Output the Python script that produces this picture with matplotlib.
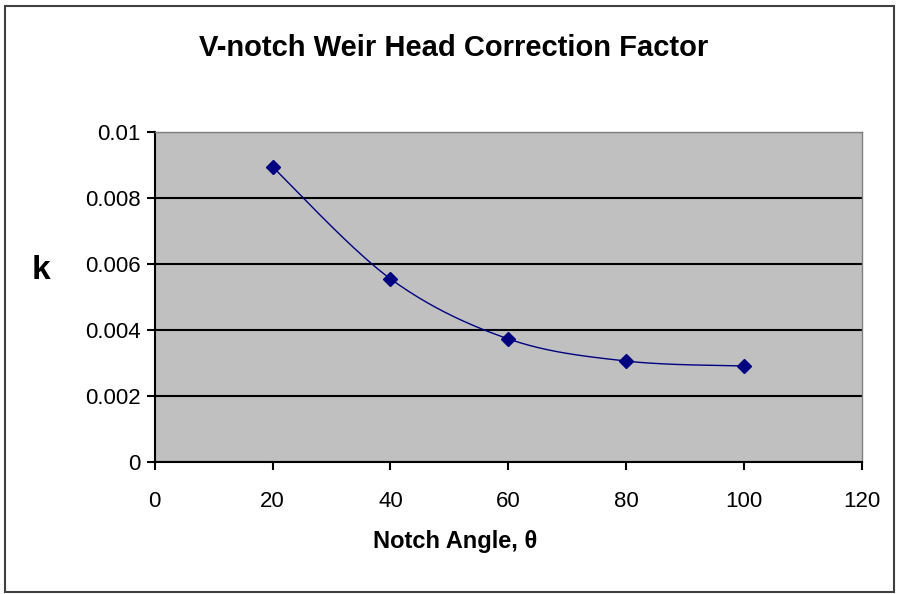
import numpy as np
import matplotlib
matplotlib.use('Agg')
import matplotlib.pyplot as plt
from matplotlib.patches import Rectangle

plt.rcParams['font.family'] = ['Liberation Sans', 'DejaVu Sans']

# data
angles = [20, 40, 60, 80, 100]
k_values = [0.00894, 0.00555, 0.00373, 0.00306, 0.00291]
x_ticks = [0, 20, 40, 60, 80, 100, 120]
y_ticks = [0, 0.002, 0.004, 0.006, 0.008, 0.01]
y_tick_labels = ['0', '0.002', '0.004', '0.006', '0.008', '0.01']


def smooth_curve(x, y, n=40):
    # Excel-style smoothed line: cubic bezier with catmull-rom control points
    x = np.asarray(x, float)
    y = np.asarray(y, float)
    px, py = [], []
    for i in range(len(x) - 1):
        x0, y0 = (x[i - 1], y[i - 1]) if i > 0 else (x[i], y[i])
        x3, y3 = (x[i + 2], y[i + 2]) if i + 2 < len(x) else (x[i + 1], y[i + 1])
        c1x = x[i] + (x[i + 1] - x0) / 6
        c1y = y[i] + (y[i + 1] - y0) / 6
        c2x = x[i + 1] - (x3 - x[i]) / 6
        c2y = y[i + 1] - (y3 - y[i]) / 6
        t = np.linspace(0, 1, n)
        b0, b1, b2, b3 = (1 - t) ** 3, 3 * t * (1 - t) ** 2, 3 * t ** 2 * (1 - t), t ** 3
        px.extend(b0 * x[i] + b1 * c1x + b2 * c2x + b3 * x[i + 1])
        py.extend(b0 * y[i] + b1 * c1y + b2 * c2y + b3 * y[i + 1])
    return np.array(px), np.array(py)


fig = plt.figure(figsize=(8.99, 5.94), dpi=100)
fig.patches.append(Rectangle((0.006, 0.004), 0.988, 0.986, transform=fig.transFigure,
                             fill=False, edgecolor='#404040', linewidth=1.5))

ax = fig.add_axes([0.172, 0.222, 0.787, 0.556])
ax.set_facecolor('#c0c0c0')

sx, sy = smooth_curve(angles, k_values)
ax.plot(sx, sy, color='#000080', linewidth=1, zorder=3)
ax.plot(angles, k_values, linestyle='none', marker='D', markersize=7,
        color='#000080', zorder=4)

ax.set_xlim(0, 120)
ax.set_ylim(0, 0.01)
ax.set_xticks(x_ticks)
ax.set_yticks(y_ticks)
ax.set_yticklabels(y_tick_labels)
ax.yaxis.grid(True, color='black', linewidth=1.5)
ax.set_axisbelow(True)

for side in ['top', 'right']:
    ax.spines[side].set_color('#808080')
    ax.spines[side].set_linewidth(1)
for side in ['left', 'bottom']:
    ax.spines[side].set_color('black')
    ax.spines[side].set_linewidth(1.5)

ax.tick_params(axis='both', direction='out', length=6, width=1.5, labelsize=16)
ax.tick_params(axis='x', pad=15)
ax.tick_params(axis='y', pad=4)

fig.text(0.505, 0.92, 'V-notch Weir Head Correction Factor', ha='center', va='center',
         fontsize=21, fontweight='bold')
fig.text(0.045, 0.545, 'k', ha='center', va='center', fontsize=24, fontweight='bold')
fig.text(0.506, 0.088, 'Notch Angle, θ', ha='center', va='center',
         fontsize=17, fontweight='bold')

fig.savefig('out.png', dpi=100)
